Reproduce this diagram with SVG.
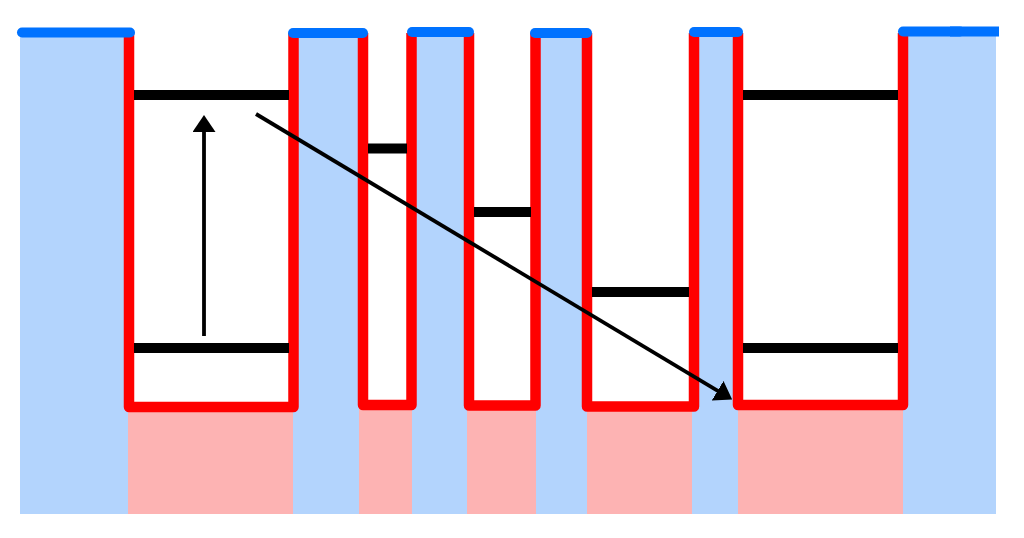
<svg xmlns="http://www.w3.org/2000/svg" width="1024" height="538" viewBox="0 0 1024 538">
<style>
.wall{fill:none;stroke:#ff0000;stroke-width:10.5;stroke-linejoin:round}
.top{stroke:#0072ff;stroke-width:10;stroke-linecap:round}
.lvl{stroke:#000;stroke-width:10}
.pink{fill:#fdb3b3}
.conn{stroke:#000;stroke-width:3.8;fill:none}
</style>
<defs>
<marker id="ah" markerUnits="userSpaceOnUse" viewBox="0 0 17 23" refX="9" refY="11.5" markerWidth="17" markerHeight="23" orient="auto">
<path d="M0,0 L17,11.5 L0,23 z" fill="#000"/>
</marker>
</defs>
<rect x="0" y="0" width="1024" height="538" fill="#fff"/>
<g id="background">
<rect x="20" y="32" width="976" height="482" fill="#b3d4fd"/>
</g>
<g id="well1">
<rect x="129" y="0" width="164.5" height="407" fill="#fff"/>
<rect class="pink" x="128" y="407" width="165" height="107"/>
<path class="wall" d="M129,33 V407 H293.5 V33"/>
<line class="lvl" x1="134" y1="95" x2="289" y2="95"/>
<line class="lvl" x1="134" y1="348" x2="289" y2="348"/>
</g>
<g id="well2">
<rect x="363" y="0" width="48.5" height="405" fill="#fff"/>
<rect class="pink" x="359" y="405" width="53" height="109"/>
<path class="wall" d="M363,33 V405 H411.5 V33"/>
<line class="lvl" x1="368" y1="148.5" x2="407" y2="148.5"/>
</g>
<g id="well3">
<rect x="469" y="0" width="66.5" height="405.5" fill="#fff"/>
<rect class="pink" x="467" y="405.5" width="69" height="108.5"/>
<path class="wall" d="M469,33 V405.5 H535.5 V33"/>
<line class="lvl" x1="474" y1="212" x2="531" y2="212"/>
</g>
<g id="well4">
<rect x="587" y="0" width="107" height="406.5" fill="#fff"/>
<rect class="pink" x="587" y="406.5" width="105" height="107.5"/>
<path class="wall" d="M587,33 V406.5 H694 V33"/>
<line class="lvl" x1="592" y1="292" x2="689" y2="292"/>
</g>
<g id="well5">
<rect x="738" y="0" width="165" height="405" fill="#fff"/>
<rect class="pink" x="738" y="405" width="165" height="109"/>
<path class="wall" d="M738,33 V405 H903 V33"/>
<line class="lvl" x1="743" y1="95" x2="898" y2="95"/>
<line class="lvl" x1="743" y1="348" x2="898" y2="348"/>
</g>
<g id="barrier-tops">
<line class="top" x1="22" y1="32.5" x2="130" y2="32.5"/>
<line class="top" x1="293" y1="33" x2="363" y2="33"/>
<line class="top" x1="412" y1="32" x2="469" y2="32"/>
<line class="top" x1="535" y1="33" x2="587" y2="33"/>
<line class="top" x1="694" y1="32" x2="738" y2="32"/>
<line class="top" x1="903" y1="31.5" x2="960" y2="31.5"/>
<rect x="950" y="26.5" width="49" height="10" fill="#0072ff"/>
</g>
<g id="connectors">
<line class="conn" x1="204" y1="336" x2="204" y2="123" marker-end="url(#ah)"/>
<line class="conn" x1="256" y1="114" x2="725.3" y2="395.4" marker-end="url(#ah)"/>
</g>
</svg>
